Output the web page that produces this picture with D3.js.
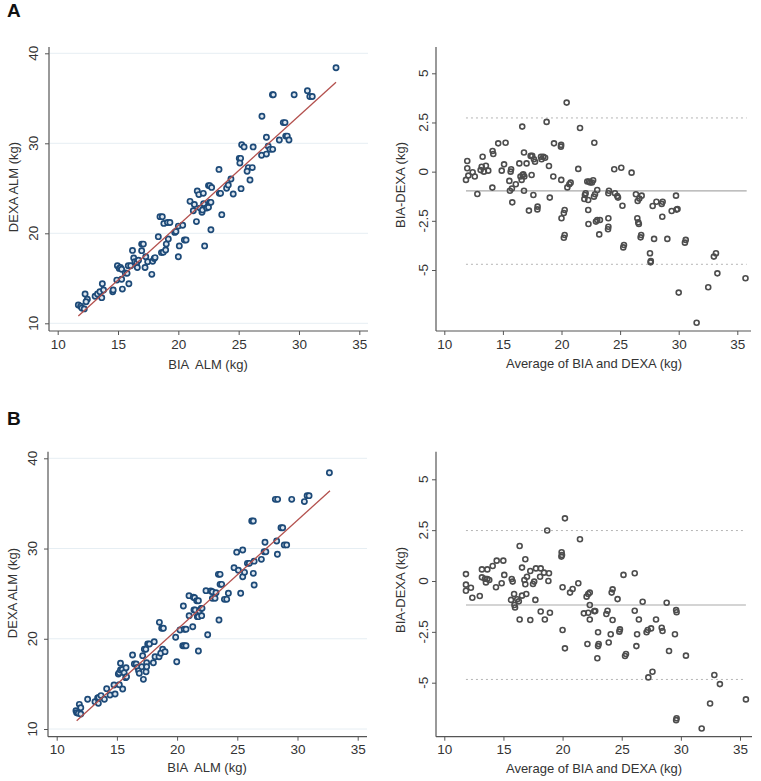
<!DOCTYPE html>
<html>
<head>
<meta charset="utf-8">
<script src="https://cdn.jsdelivr.net/npm/d3@7"></script>
<style>
  body { margin: 0; background: #fff; }
  text { font-family: "Liberation Sans", Arial, sans-serif; white-space: pre; }
</style>
</head>
<body>
<script>
// ---- data ----
// panel A, scatter: [BIA ALM, DEXA ALM]
var aScatter = [[11.71,12.04],[11.9,11.9],[12.0,11.7],[12.2,11.6],[12.27,13.26],[12.46,12.67],[12.35,12.4],[13.1,13.0],[13.3,13.26],[13.5,13.5],
  [13.65,12.85],[13.7,14.4],[13.8,13.7],[14.56,13.5],[14.6,13.7],[14.9,14.8],[14.95,16.4],[15.1,16.1],[15.2,16.2],[15.3,16.0],
  [15.3,14.9],[15.36,13.8],[15.6,15.6],[15.75,15.55],[15.9,14.4],[15.85,16.4],[16.05,16.4],[16.2,18.1],[16.3,17.26],[16.4,16.85],
  [16.55,16.7],[16.7,17.0],[16.6,16.2],[16.96,18.8],[17.1,18.8],[16.96,18.07],[17.24,16.2],[17.3,17.4],[17.46,16.85],[17.8,15.44],
  [17.87,16.9],[18.0,17.2],[18.07,17.3],[18.34,19.63],[18.48,21.85],[18.67,21.85],[18.6,17.85],[18.75,17.9],[18.8,21.1],[18.95,18.15],
  [19.0,18.8],[19.1,21.2],[19.3,21.2],[19.17,19.37],[19.7,20.1],[19.8,20.2],[20.0,20.8],[20.0,17.4],[20.08,18.6],[20.36,20.9],
  [20.5,19.26],[20.64,19.26],[20.97,23.55],[21.24,22.5],[21.33,23.2],[21.5,21.3],[21.57,24.7],[21.7,24.3],[21.8,22.8],[21.96,22.33],
  [22.0,22.6],[22.07,24.44],[22.1,23.3],[22.18,18.6],[22.35,22.8],[22.5,22.9],[22.5,25.3],[22.6,25.3],[22.6,23.44],[22.7,23.44],
  [22.7,20.4],[22.76,25.1],[23.37,27.1],[23.4,24.44],[23.5,24.44],[23.6,22.07],[24.0,25.0],[24.14,25.37],[24.36,26.04],[24.55,24.37],
  [25.05,28.33],[25.16,28.33],[25.2,24.96],[25.1,27.8],[25.25,29.85],[25.45,29.6],[25.8,27.3],[25.7,26.9],[25.94,25.93],[26.13,27.3],
  [26.2,29.6],[26.93,33.0],[26.9,28.67],[27.3,28.8],[27.3,30.67],[27.45,29.67],[27.6,29.33],[27.8,35.4],[27.87,35.4],[27.82,29.33],
  [28.37,30.37],[28.7,32.3],[28.84,32.3],[28.9,30.8],[29.03,30.8],[29.17,30.37],[29.6,35.4],[30.7,35.85],[30.9,35.2],[31.1,35.2],
  [33.07,38.4]];
var aFit = [[11.71,10.81],[33.07,36.78]];

// panel A, Bland-Altman: [average, difference]
var aBland = [[11.96,0.54],[11.96,0.17],[11.85,-0.42],[12.05,-0.2],[12.42,-0.03],[12.6,-0.25],[12.82,-1.14],[13.1,0.08],[13.19,0.25],[13.27,0.76],
  [13.38,0.0],[13.55,0.3],[13.75,0.05],[14.1,-0.81],[14.12,1.05],[14.18,0.9],[14.6,1.44],[14.9,0.05],[15.1,0.37],[15.23,1.47],
  [15.55,-0.47],[15.6,-0.97],[15.66,0.0],[15.7,0.12],[15.77,-0.86],[15.8,-1.56],[16.1,-0.64],[16.4,0.42],[16.5,-0.25],[16.6,-0.42],
  [16.68,-0.17],[16.65,2.29],[16.74,-0.14],[16.83,-0.25],[16.8,0.97],[16.8,-0.97],[17.02,0.42],[17.22,-1.98],[17.37,0.8],[17.5,0.8],
  [17.45,-0.17],[17.6,-1.19],[17.65,0.63],[17.74,0.5],[17.94,-1.92],[17.96,-1.78],[18.25,0.76],[18.3,0.63],[18.45,0.76],[18.6,0.71],
  [18.73,2.53],[18.93,0.29],[19.0,-1.32],[19.3,-0.25],[19.36,1.44],[19.98,-0.42],[19.95,1.27],[19.97,1.36],[20.0,-2.37],[20.2,-2.1],
  [20.27,-1.95],[20.2,-3.36],[20.27,-3.22],[20.44,3.51],[20.5,-0.8],[20.67,-0.64],[20.78,-0.56],[21.43,0.14],[21.58,2.22],[22.0,-1.19],
  [22.06,-1.1],[21.95,-1.39],[22.2,-0.5],[22.35,-0.5],[22.45,-0.55],[22.6,-0.55],[22.7,-0.44],[22.28,-1.44],[22.28,-1.95],[22.3,-2.66],
  [22.8,1.47],[22.77,-1.27],[22.86,-1.15],[22.94,-2.54],[23.05,-2.46],[23.05,-0.93],[23.22,-3.19],[23.28,-2.46],[24.0,-1.1],[24.05,-0.97],
  [24.0,-2.37],[23.97,-2.93],[24.0,-2.8],[24.5,0.12],[24.56,-1.1],[24.76,-1.24],[24.82,-1.32],[25.1,0.2],[25.2,-1.73],[25.27,-3.85],
  [25.33,-3.73],[25.98,-0.05],[26.35,-1.15],[26.47,-2.37],[26.55,-2.58],[26.6,-2.66],[26.5,-1.49],[26.64,-1.37],[26.84,-1.22],[26.75,-3.34],
  [26.8,-3.22],[27.55,-4.15],[27.6,-4.61],[27.62,-4.55],[27.78,-1.75],[27.9,-3.42],[28.1,-1.53],[28.55,-1.64],[28.63,-1.53],[28.6,-2.29],
  [29.03,-3.42],[29.4,-2.0],[29.77,-1.22],[29.82,-1.93],[29.9,-1.9],[30.0,-6.15],[30.53,-3.61],[30.6,-3.47],[31.53,-7.68],[32.52,-5.88],
  [33.0,-4.32],[33.18,-4.15],[33.3,-5.17],[35.7,-5.42]];
var aLimits = { mean: -0.98, upper: 2.73, lower: -4.71, from: 11.85, to: 35.8 };

// panel B, scatter
var bScatter = [[11.6,12.03],[11.66,11.8],[11.8,11.74],[11.88,12.73],[12.0,12.36],[12.0,11.66],[12.57,13.3],[13.18,13.03],[13.4,13.44],[13.5,13.5],
  [13.46,12.84],[13.68,13.7],[13.96,13.3],[14.15,14.47],[14.43,13.77],[14.85,13.88],[14.76,14.88],[15.2,14.9],[15.12,16.1],[15.2,16.24],
  [15.3,17.28],[15.3,16.54],[15.45,16.6],[15.48,14.43],[15.6,16.24],[15.73,15.69],[15.8,15.8],[15.76,16.8],[16.3,18.2],[16.45,17.2],
  [16.6,17.2],[16.7,16.83],[16.8,16.46],[16.86,16.17],[17.06,16.9],[17.14,18.13],[17.2,15.5],[17.28,18.83],[17.4,18.83],[17.42,16.35],
  [17.47,17.35],[17.47,16.9],[17.56,19.42],[17.7,19.42],[18.03,17.35],[18.1,19.68],[18.17,18.0],[18.53,21.82],[18.5,18.0],[18.72,21.16],
  [18.86,21.16],[18.8,18.83],[18.64,18.4],[19.0,18.57],[19.88,20.16],[19.97,17.46],[20.24,20.97],[20.52,23.63],[20.6,21.05],[20.74,21.05],
  [20.47,19.23],[20.6,19.23],[20.74,19.23],[20.99,24.78],[21.0,22.56],[21.3,21.34],[21.35,24.6],[21.45,24.55],[21.4,23.19],[21.5,23.19],
  [21.63,24.22],[21.77,24.22],[21.68,22.45],[21.77,22.45],[21.77,18.64],[21.85,23.08],[22.0,23.37],[22.07,23.37],[22.04,22.56],[22.4,25.33],
  [22.54,20.45],[22.8,25.3],[22.93,25.22],[22.93,24.48],[23.15,24.48],[23.23,25.1],[23.43,27.14],[23.57,27.14],[23.48,22.08],[23.57,26.03],
  [23.7,26.03],[23.93,24.37],[24.12,24.37],[24.26,25.04],[24.73,27.88],[24.95,29.6],[25.09,27.6],[25.28,25.04],[25.45,29.84],[25.45,26.88],
  [25.6,27.36],[25.84,28.36],[26.0,28.36],[26.2,33.05],[26.33,33.05],[26.33,27.25],[26.4,25.96],[26.4,28.6],[27.0,28.8],[27.3,30.69],
  [27.23,29.65],[27.37,29.65],[28.16,35.45],[28.35,35.45],[28.27,30.84],[28.33,29.36],[28.63,32.3],[28.77,32.3],[28.9,30.4],[29.1,30.4],
  [29.52,35.45],[30.57,35.2],[30.8,35.86],[30.96,35.86],[32.65,38.4]];
var bFit = [[11.66,10.92],[32.7,36.41]];

// panel B, Bland-Altman
var bBland = [[11.83,0.34],[11.83,-0.18],[11.83,-0.48],[12.25,-0.33],[12.37,-0.82],[13.0,-0.74],[13.18,0.57],[13.18,0.18],[13.44,0.11],[13.52,-0.07],
  [13.64,0.1],[13.8,0.05],[13.64,0.57],[14.09,0.74],[14.37,-0.31],[14.43,1.0],[14.85,-0.11],[14.99,1.0],[15.07,0.3],[15.64,-0.93],
  [15.7,0.1],[15.78,-0.03],[15.9,-0.64],[15.93,-1.18],[15.98,-1.3],[16.17,-0.9],[16.3,-1.0],[16.37,-1.89],[16.37,1.72],[16.57,0.66],
  [16.57,-0.72],[16.77,0.05],[16.85,-0.16],[16.85,1.07],[16.93,-0.64],[16.99,0.21],[17.27,0.49],[17.27,-1.92],[17.5,-0.15],[17.6,-0.03],
  [17.7,-0.93],[17.75,0.62],[18.1,0.21],[18.15,0.62],[18.15,-1.5],[18.43,0.41],[18.5,-1.89],[18.7,2.48],[18.8,0.0],[18.85,0.38],
  [18.93,-1.56],[19.92,1.41],[19.95,1.28],[19.9,1.2],[20.0,-0.31],[20.0,-2.41],[20.2,3.08],[20.2,-3.31],[20.63,-0.57],[20.85,-0.39],
  [21.33,-0.11],[21.47,2.05],[21.8,-1.59],[22.03,-0.77],[22.17,-0.64],[22.17,-1.56],[22.1,-3.1],[22.3,-1.18],[22.3,-0.57],[22.3,-1.89],
  [22.68,-1.48],[22.76,-1.48],[23.0,-2.52],[22.94,-3.8],[23.0,-3.2],[23.05,-3.1],[23.7,-1.62],[23.8,-1.46],[23.9,-3.02],[24.07,-2.62],
  [24.15,-0.57],[24.23,-0.41],[24.23,-1.92],[24.65,-0.89],[24.8,-2.49],[24.85,-2.38],[25.15,0.3],[25.28,-3.69],[25.36,-3.59],[26.1,0.38],
  [26.1,-1.46],[26.24,-3.2],[26.3,-2.62],[26.45,-1.89],[26.77,-1.02],[27.1,-2.52],[27.2,-2.41],[27.25,-4.74],[27.48,-2.33],[27.6,-4.46],
  [27.9,-1.89],[28.38,-2.3],[28.45,-2.46],[28.8,-1.07],[29.0,-3.44],[29.5,-2.62],[29.6,-1.43],[29.64,-1.54],[29.6,-6.84],[29.64,-6.75],
  [30.43,-3.67],[31.76,-7.25],[32.47,-6.02],[32.83,-4.62],[33.3,-5.07],[35.5,-5.82]];
var bLimits = { mean: -1.18, upper: 2.48, lower: -4.84, from: 11.83, to: 35.5 };

var xTicks = [10, 15, 20, 25, 30, 35];
var scatterYTicks = [10, 20, 30, 40];
var blandYTicks = [-5, -2.5, 0, 2.5, 5];
var blandYLabels = ["-5", "-2.5", "0", "2.5", "5"];

var W = 761, H = 781;

var svg = d3.select('body').append('svg')
    .attr('width', W)
    .attr('height', H);

// panel letters
svg.append('text').attr('x', 7).attr('y', 17).text('A')
    .style('font-size', '19px').style('font-weight', 'bold').attr('fill', '#111');
svg.append('text').attr('x', 7).attr('y', 425).text('B')
    .style('font-size', '19px').style('font-weight', 'bold').attr('fill', '#111');

// draws one frame: axes, ticks, labels; returns scales
function frame(o) {
    var g = svg.append('g');
    var x = d3.scaleLinear().domain([10, 35]).range([o.x10, o.x35]);
    var y = d3.scaleLinear().domain(o.yDom).range(o.yRng);

    // light grid (scatter panels only)
    if (o.grid) {
        g.selectAll('.grid').data(o.yTicks).enter().append('line')
            .attr('x1', o.left + 1).attr('x2', o.right)
            .attr('y1', function(d){ return y(d); })
            .attr('y2', function(d){ return y(d); })
            .attr('stroke', '#e6eef3').attr('stroke-width', 1);
    }

    var xAxis = d3.axisBottom(x).tickValues(xTicks).tickSize(4).tickPadding(4);
    var gx = g.append('g').attr('transform', 'translate(0,' + o.bottom + ')').call(xAxis);
    gx.select('.domain').remove();
    gx.selectAll('line').attr('stroke', '#555');
    gx.selectAll('text').style('font-size', '13.5px').attr('fill', '#333');

    var yAxis = d3.axisLeft(y).tickValues(o.yTicks).tickSize(4).tickFormat('');
    var gy = g.append('g').attr('transform', 'translate(' + o.left + ',0)').call(yAxis);
    gy.select('.domain').remove();
    gy.selectAll('line').attr('stroke', '#555');

    // rotated tick labels, Stata style
    g.selectAll('.ylab').data(o.yTicks).enter().append('text')
        .attr('transform', function(d){ return 'translate(' + (o.left - o.labOff) + ',' + y(d) + ') rotate(-90)'; })
        .attr('text-anchor', 'middle')
        .style('font-size', '13.5px').attr('fill', '#333')
        .text(function(d, i){ return o.yLabels ? o.yLabels[i] : d; });

    // axis lines
    g.append('line').attr('x1', o.left).attr('x2', o.right).attr('y1', o.bottom).attr('y2', o.bottom)
        .attr('stroke', '#555').attr('stroke-width', 1.2);
    g.append('line').attr('x1', o.left).attr('x2', o.left).attr('y1', o.top).attr('y2', o.bottom)
        .attr('stroke', '#555').attr('stroke-width', 1.2);

    // titles
    g.append('text').attr('x', o.xTitle[0]).attr('y', o.xTitle[1])
        .attr('text-anchor', 'middle').style('font-size', '13px').attr('fill', '#333')
        .text(o.xLabel);
    g.append('text')
        .attr('transform', 'translate(' + o.yTitle[0] + ',' + o.yTitle[1] + ') rotate(-90)')
        .attr('text-anchor', 'middle').attr('dy', '0.35em')
        .style('font-size', '13px').attr('fill', '#333')
        .text(o.yLabel);
    return { x: x, y: y, g: g };
}

function scatterPanel(o, pts, fit) {
    var f = frame(o);
    f.g.selectAll('circle').data(pts).enter().append('circle')
        .attr('cx', function(d){ return f.x(d[0]); })
        .attr('cy', function(d){ return f.y(d[1]); })
        .attr('r', 2.6)
        .attr('fill', '#dde6ef')
        .attr('stroke', '#1d4a78')
        .attr('stroke-width', 1.7);
    f.g.append('line')
        .attr('x1', f.x(fit[0][0])).attr('y1', f.y(fit[0][1]))
        .attr('x2', f.x(fit[1][0])).attr('y2', f.y(fit[1][1]))
        .attr('stroke', '#b3504d').attr('stroke-width', 1.3);
}

function blandPanel(o, pts, lim) {
    var f = frame(o);
    [['mean', null], ['upper', '2,3'], ['lower', '2,3']].forEach(function(k){
        f.g.append('line')
            .attr('x1', f.x(lim.from)).attr('x2', f.x(lim.to))
            .attr('y1', f.y(lim[k[0]])).attr('y2', f.y(lim[k[0]]))
            .attr('stroke', k[1] ? '#b5b5b5' : '#aaa')
            .attr('stroke-width', k[1] ? 1 : 1.2)
            .attr('stroke-dasharray', k[1]);
    });
    f.g.selectAll('circle').data(pts).enter().append('circle')
        .attr('cx', function(d){ return f.x(d[0]); })
        .attr('cy', function(d){ return f.y(d[1]); })
        .attr('r', 2.5)
        .attr('fill', 'none')
        .attr('stroke', '#4d4d4d')
        .attr('stroke-width', 1.6);
}

scatterPanel({
    x10: 57.7, x35: 359.3, yDom: [10, 40], yRng: [323.3, 53.3],
    left: 49, right: 368, top: 47, bottom: 331, grid: true,
    yTicks: scatterYTicks, labOff: 11,
    xLabel: 'BIA  ALM (kg)', yLabel: 'DEXA ALM (kg)',
    xTitle: [208, 369], yTitle: [13, 187]
}, aScatter, aFit);

blandPanel({
    x10: 444.3, x35: 737.3, yDom: [-5, 5], yRng: [270, 73.3],
    left: 436, right: 751, top: 47, bottom: 331, grid: false,
    yTicks: blandYTicks, yLabels: blandYLabels, labOff: 8.5,
    xLabel: 'Average of BIA and DEXA (kg)', yLabel: 'BIA-DEXA (kg)',
    xTitle: [594, 368], yTitle: [400, 185]
}, aBland, aLimits);

scatterPanel({
    x10: 56.7, x35: 357.7, yDom: [10, 40], yRng: [729, 458.3],
    left: 48, right: 367, top: 451.7, bottom: 736.7, grid: true,
    yTicks: scatterYTicks, labOff: 11,
    xLabel: 'BIA  ALM (kg)', yLabel: 'DEXA ALM (kg)',
    xTitle: [207, 772], yTitle: [12, 593]
}, bScatter, bFit);

blandPanel({
    x10: 444.3, x35: 740, yDom: [-5, 5], yRng: [682.7, 479.3],
    left: 436, right: 752, top: 451.7, bottom: 736.7, grid: false,
    yTicks: blandYTicks, yLabels: blandYLabels, labOff: 8.5,
    xLabel: 'Average of BIA and DEXA (kg)', yLabel: 'BIA-DEXA (kg)',
    xTitle: [594, 773], yTitle: [400, 590]
}, bBland, bLimits);
</script>
</body>
</html>
